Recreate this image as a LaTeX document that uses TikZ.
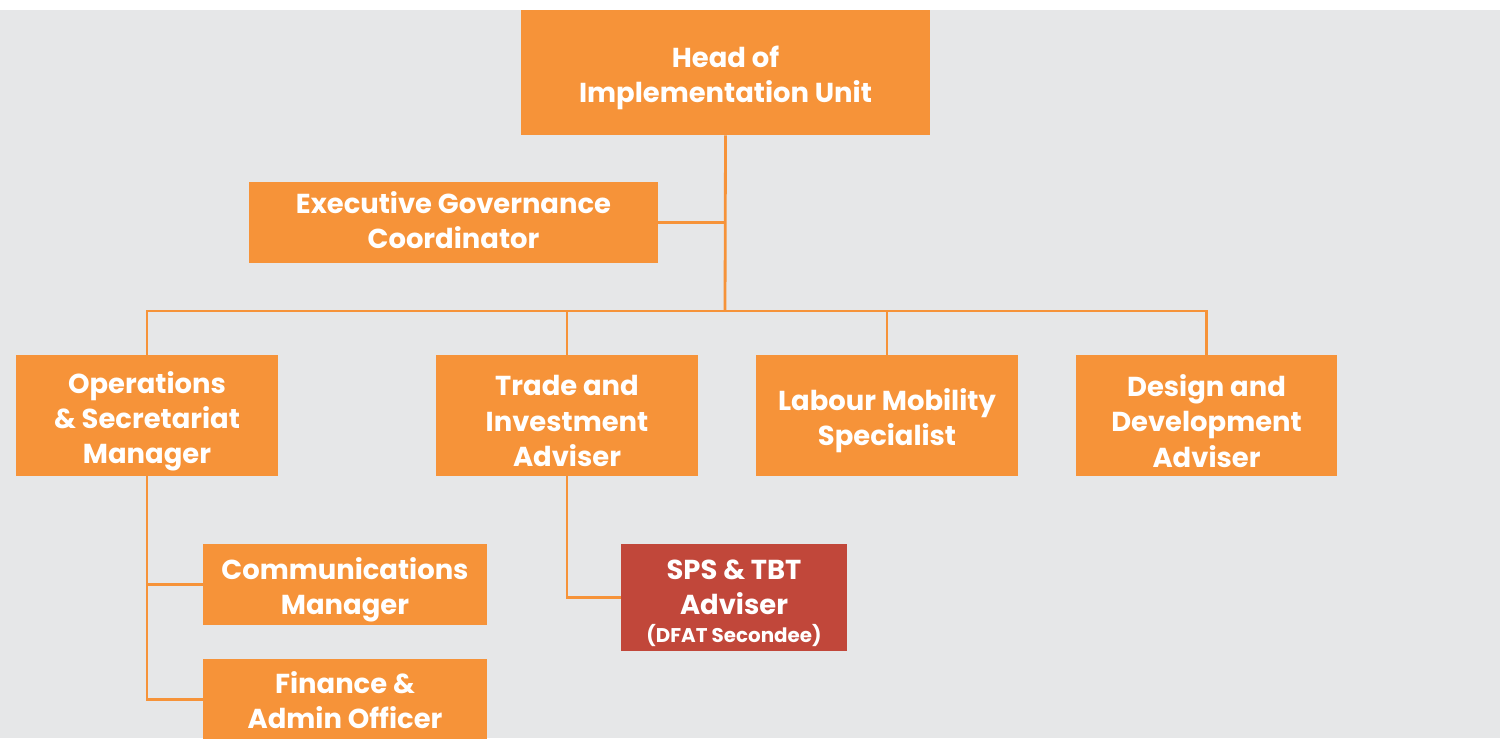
\documentclass[tikz,border=0pt]{standalone}
\usepackage{fontspec}
\setmainfont{Poppins}
\usepackage{xcolor}
\usepackage{tikz}

\definecolor{unitorange}{HTML}{F69339}
\definecolor{unitred}{HTML}{C1473A}
\definecolor{unitgrey}{HTML}{E6E7E8}

\tikzset{
    roletext/.style={text=white,font=\bfseries\fontsize{15.6}{20}\selectfont,
        align=center,inner sep=0pt},
    role/.style 2 args={fill=unitorange,inner sep=0pt,label={[roletext,yshift=#2]center:{#1}}},
    headbox/.style={role={#1}{-0.11cm},minimum width=8.18cm,minimum height=2.5cm},
    widebox/.style 2 args={role={#1}{#2},minimum width=8.18cm,minimum height=1.62cm},
    midbox/.style={role={#1}{-0.11cm},minimum width=5.24cm,minimum height=2.42cm},
    subbox/.style 2 args={role={#1}{#2},minimum width=5.68cm,minimum height=1.62cm},
    secondee/.style={role={#1}{-0.11cm},fill=unitred,minimum width=4.52cm,minimum height=2.14cm},
    link/.style={draw=unitorange,line width=1.6pt}
}

\begin{document}
\begin{tikzpicture}[x=0.02cm,y=-0.02cm]
    % \draw[help lines] grid (1500,738);

    % Page
    \useasboundingbox (0,0) rectangle (1500,738);
    \clip (0,0) rectangle (1500,738);
    \fill[white] (0,0) rectangle (1500,738);
    \fill[unitgrey] (0,10) rectangle (1500,738);

    % Top
    \node[headbox={Head of\\Implementation Unit}] (head) at (725.5,72.5) {};
    \node[widebox={Executive Governance\\Coordinator}{0.05cm}] (exec) at (453.5,222.5) {};
    \coordinate (bar) at (725,311);

    % Second row
    \node[midbox={Operations\\\& Secretariat\\Manager}] (ops) at (147,415.5) {};
    \node[midbox={Trade and\\Investment\\Adviser}] (trade) at (567,415.5) {};
    \node[midbox={Labour Mobility\\Specialist}] (labour) at (887,415.5) {};
    \node[midbox={Design and\\Development\\Adviser}] (design) at (1206.5,415.5) {};

    % Third row
    \node[subbox={Communications\\Manager}{-0.11cm}] (comms) at (345,584.5) {};
    \node[subbox={Finance \&\\Admin Officer}{-0.01cm}] (fin) at (345,699.5) {};
    \node[secondee={SPS \& TBT\\Adviser\\[-4pt]
        {\fontsize{11.3}{13}\selectfont (DFAT Secondee)}}] (sps) at (734,597.5) {};

    % Connectors
    \draw[link] (head.south) -- (bar);
    \draw[link] (exec.east) -- (exec.east -| bar);
    \draw[link] (ops.north) -- (ops.north |- bar) -- (design.north |- bar) -- (design.north);
    \foreach \n in {trade,labour} {
        \draw[link] (\n.north) -- (\n.north |- bar);
    }
    \draw[link] (ops.south) |- (fin.west);
    \draw[link] (comms.west) -- (comms.west -| ops.south);
    \draw[link] (trade.south) |- (sps.west);

\end{tikzpicture}
\end{document}
